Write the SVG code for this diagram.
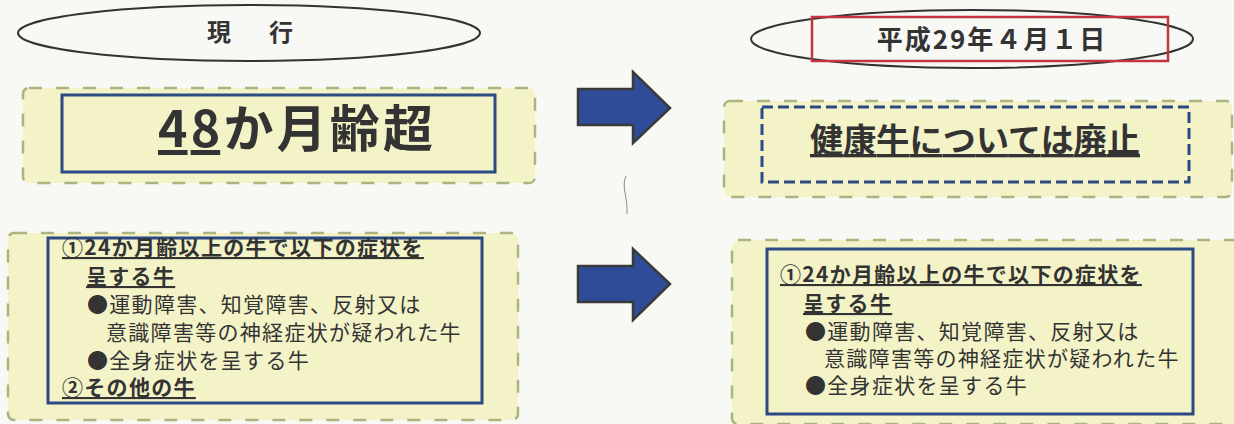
<svg xmlns="http://www.w3.org/2000/svg" width="1234" height="424" viewBox="0 0 1234 424">
<style>
.bg{fill:#f8f8f4}
.ybox{fill:#f4f3c8;stroke:#abb47f;stroke-width:2.5;stroke-dasharray:13 14}
.bsolid{fill:none;stroke:#2b4a84;stroke-width:3}
.bdash{fill:none;stroke:#2b4a84;stroke-width:3;stroke-dasharray:11 5}
.oval{fill:none;stroke:#333;stroke-width:2}
.t{font-family:'Noto Sans CJK JP','Noto Sans CJK SC',sans-serif;fill:#333}
.b{font-weight:bold}
.u{text-decoration:underline}
.s{font-size:21px;letter-spacing:1.3px}
.arrow{fill:#2e4c98;stroke:#3a3a3a;stroke-width:2.5;stroke-linejoin:miter}
</style>
<rect class="bg" x="0" y="0" width="1234" height="424"/>
<g id="header-current">
<ellipse class="oval" cx="249" cy="33" rx="231" ry="28"/>
<text class="t b" x="207" y="41" font-size="24">現</text>
<text class="t b" x="269" y="41" font-size="24">行</text>
</g>
<g id="header-date">
<ellipse class="oval" cx="972" cy="39" rx="221" ry="29"/>
<rect x="812" y="17" width="356" height="44" fill="none" stroke="#c4343e" stroke-width="2.5"/>
<text class="t b" x="992" y="49" font-size="26" text-anchor="middle" letter-spacing="2">平成29年４月１日</text>
</g>
<g id="node-48months">
<rect class="ybox" x="23" y="88" width="512" height="95" rx="6"/>
<rect class="bsolid" x="62" y="95" width="433" height="77"/>
<text class="t b" x="158" y="147" font-size="50" textLength="275"><tspan class="u">48</tspan>か月齢超</text>
</g>
<g id="node-abolished">
<rect class="ybox" x="724" y="101" width="508" height="96" rx="6"/>
<rect class="bdash" x="762" y="107" width="427" height="75"/>
<text class="t b u" x="810" y="152" font-size="33" textLength="330">健康牛については廃止</text>
</g>
<g id="node-current-criteria">
<rect class="ybox" x="8" y="233" width="510" height="187" rx="6"/>
<rect class="bsolid" x="48" y="238" width="434" height="165"/>
<text class="t s b u" x="62" y="255">①24か月齢以上の牛で以下の症状を</text>
<text class="t s b u" x="86" y="284">呈する牛</text>
<text class="t s" x="87" y="312">●運動障害、知覚障害、反射又は</text>
<text class="t s" x="106" y="340">意識障害等の神経症状が疑われた牛</text>
<text class="t s" x="87" y="368">●全身症状を呈する牛</text>
<text class="t s b u" x="62" y="395">②その他の牛</text>
</g>
<g id="node-new-criteria">
<rect class="ybox" x="732" y="240" width="510" height="184" rx="6"/>
<rect class="bsolid" x="767" y="249" width="426" height="165"/>
<text class="t s b u" x="780" y="282">①24か月齢以上の牛で以下の症状を</text>
<text class="t s b u" x="803" y="311">呈する牛</text>
<text class="t s" x="805" y="339">●運動障害、知覚障害、反射又は</text>
<text class="t s" x="824" y="366">意識障害等の神経症状が疑われた牛</text>
<text class="t s" x="805" y="393">●全身症状を呈する牛</text>
</g>
<g id="connectors">
<path class="arrow" d="M578,89 H633 V72 L670,108 L633,143 V125 H578 Z"/>
<path class="arrow" d="M578,266 H633 V249 L670,284 L633,320 V302 H578 Z"/>
<path d="M626,176 C621,186 628,198 627,214" fill="none" stroke="#8a8a8a" stroke-width="1"/>
</g>
</svg>
